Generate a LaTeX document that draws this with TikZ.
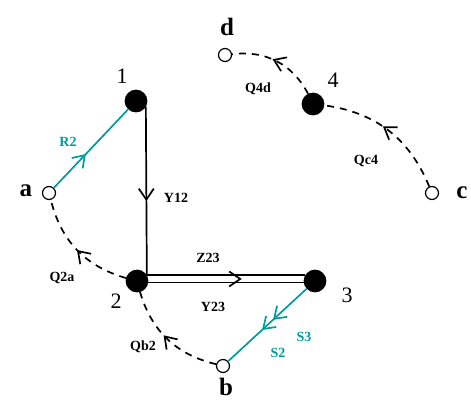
\documentclass[tikz,border=0pt]{standalone}
\usepackage{fontspec}
\setmainfont{Liberation Serif}
\usetikzlibrary{arrows.meta,decorations.markings,calc}
\definecolor{linkteal}{RGB}{0,155,155}
\tikzset{
  junction/.style={shape=circle,draw,fill,minimum size=21pt,inner sep=0pt},
  terminal/.style={shape=circle,draw,fill=white,minimum size=13pt,inner sep=0pt,line width=1.2pt},
  numlbl/.style={font=\fontsize{22}{22}\selectfont},
  letlbl/.style={font=\fontsize{25}{25}\selectfont\bfseries,inner sep=1pt},
  elbl/.style={font=\fontsize{14}{14}\selectfont\bfseries},
  flow/.style={dash pattern=on 7pt off 6pt},
  midarrow/.style={postaction={decorate,decoration={markings,mark=at position #1 with {\arrow{>}}}}},
}
\begin{document}
\begin{tikzpicture}[>={Straight Barb[length=11pt,width=15pt]}, x=1pt, y=1pt, line width=1.7pt]
  \useasboundingbox (0,0) rectangle (471,-400);

  \node (n1) at (136,-101) [junction] {};
  \node (n2) at (137,-281) [junction] {};
  \node (n3) at (315,-281) [junction] {};
  \node (n4) at (313,-104) [junction] {};
  \node (a) at (49,-193) [terminal] {};
  \node (b) at (223,-366) [terminal] {};
  \node (c) at (432,-193) [terminal] {};
  \node (d) at (225,-55) [terminal] {};

  \node (l1) at (122,-76) [numlbl] {1};
  \node (l2) at (116,-301) [numlbl] {2};
  \node (l3) at (347,-295) [numlbl] {3};
  \node (l4) at (333,-80) [numlbl] {4};
  \node (la) at (26,-191) [letlbl] {a};
  \node (lb) at (226,-387) [letlbl] {b};
  \node (lc) at (462,-193) [letlbl] {c};
  \node (ld) at (227,-27) [letlbl] {d};

  \draw [linkteal, midarrow=.43] (a) -- (n1);
  \draw [midarrow=.56] (n1.-30) -- (n2.30);
  \draw (n2.30) -- (n3.150);
  \draw (n2.-8) -- (n3.-172);
  \path [midarrow=.6] ($(n2.30)!.5!(n2.-8)$) -- ($(n3.150)!.5!(n3.-172)$);
  \draw [linkteal, midarrow=.43, midarrow=.57] (n3) -- (b);
  \draw [flow, midarrow=.5] (n2) to [bend left=30] (a);
  \draw [flow, midarrow=.55] (b) to [bend left=30] (n2);
  \draw [flow, midarrow=.55] (c) to [bend right=30] (n4);
  \draw [flow, midarrow=.55] (n4) to [bend right=35] (d);

  \node (r2) at (68,-142) [elbl, text=linkteal] {R2};
  \node (y12) at (176,-198) [elbl] {Y12};
  \node (z23) at (208,-258) [elbl] {Z23};
  \node (y23) at (213,-307) [elbl] {Y23};
  \node (s3) at (304,-337) [elbl, text=linkteal] {S3};
  \node (s2) at (278,-353) [elbl, text=linkteal] {S2};
  \node (q2a) at (62,-278) [elbl] {Q2a};
  \node (qb2) at (143,-347) [elbl] {Qb2};
  \node (qc4) at (366,-161) [elbl] {Qc4};
  \node (q4d) at (258,-89) [elbl] {Q4d};

\end{tikzpicture}
\end{document}
